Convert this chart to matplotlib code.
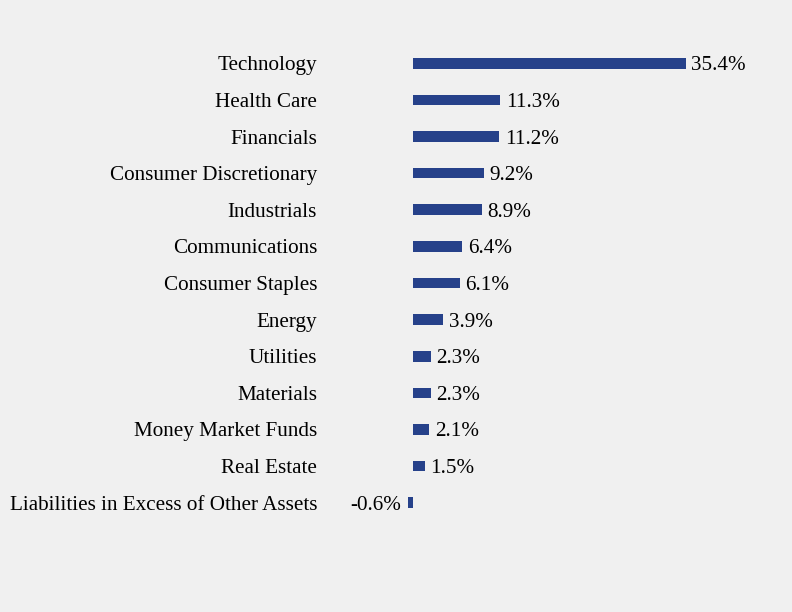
import matplotlib.pyplot as plt

sectors = ["Technology", "Health Care", "Financials", "Consumer Discretionary",
           "Industrials", "Communications", "Consumer Staples", "Energy",
           "Utilities", "Materials", "Money Market Funds", "Real Estate",
           "Liabilities in Excess of Other Assets"]
weights = [35.4, 11.3, 11.2, 9.2, 8.9, 6.4, 6.1, 3.9, 2.3, 2.3, 2.1, 1.5, -0.6]

plt.rcParams['font.family'] = ['Liberation Serif', 'DejaVu Serif']
bg = '#f0f0f0'
bar_color = '#26418a'
fs = 15.25

fig = plt.figure(figsize=(7.92, 6.12), dpi=100, facecolor=bg)
# axes placed in pixel terms: x 340..780, y 45..521 (top-down)
ax = fig.add_axes([340/792, 1 - 521/612, 440/792, 476/612], facecolor=bg)

pos = list(range(len(sectors)))
ax.barh(pos, weights, height=0.29, color=bar_color)

ppu = 7.71  # pixels per percent
ax.set_xlim(-(413 - 340)/ppu, (780 - 413)/ppu)
ax.set_ylim(len(sectors) - 0.5, -0.5)

for y, v in zip(pos, weights):
    if v >= 0:
        ax.annotate(f"{v}%", (v, y), xytext=(4, 0), textcoords='offset points',
                    ha='left', va='center_baseline', fontsize=fs)
    else:
        ax.annotate(f"{v}%", (v, y), xytext=(-5, 0), textcoords='offset points',
                    ha='right', va='center_baseline', fontsize=fs)

ax.set_yticks(pos)
ax.set_yticklabels(sectors, fontsize=fs, va='center_baseline')
ax.tick_params(axis='y', length=0, pad=23*0.72)
ax.set_xticks([])
for s in ax.spines.values():
    s.set_visible(False)

fig.savefig("out.png", dpi=100, facecolor=bg)
